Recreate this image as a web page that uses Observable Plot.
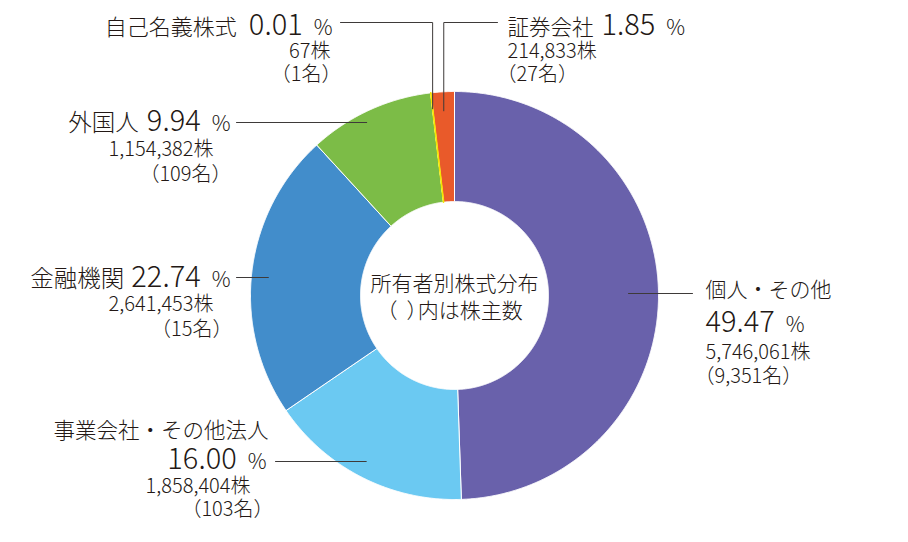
<!DOCTYPE html>
<html><head><meta charset="utf-8">
<script src="https://cdn.jsdelivr.net/npm/d3@7"></script>
<script src="https://cdn.jsdelivr.net/npm/@observablehq/plot@0.6"></script>
<style>
body{margin:0;background:#fff;}
#chart svg{display:block;}
#chart svg > g:last-of-type text{font-feature-settings:"palt";}
</style>
</head><body><div id="chart"></div>
<script>
// ---- data ----
const categories = ["個人・その他","事業会社・その他法人","金融機関","外国人","自己名義株式","証券会社"];
const percents   = [49.47, 16.00, 22.74, 9.94, 0.01, 1.85];
const shares     = ["5,746,061","1,858,404","2,641,453","1,154,382","67","214,833"];
const holders    = ["9,351","103","15","109","1","27"];
const colors     = ["#6961ab","#6bc9f2","#428dcb","#7cbc47","#f3e500","#e95a2a"];
const centerTitle = ["所有者別株式分布","（\u2002）内は株主数"];

// ---- geometry / layout ----
const W = 908, H = 542, CX = 454, CY = 295, R_OUT = 204, R_IN = 94;
const X = px => px - CX, Y = py => CY - py;
const FONT = '"Noto Sans CJK JP", "Noto Sans", sans-serif';
const WEIGHT = 300;
const INK = "#231815";
const NUM = 29, UNIT = 21, SUB = 20, CENTER = 21;
const GAP_UNIT = 11;

// lineY: y of a horizontal leader (px); elbow: y of the top elbow leader (px)
const layout = {
  "個人・その他": {r:174, lineY:293, lineEnd:692, label:21, rows:[
    {x:705, anchor:"start", dy:3,  segs:["label"]},
    {x:705, anchor:"start", dy:38, segs:["pct","unit"]},
    {x:705, anchor:"start", dy:65, segs:["shares"]},
    {x:694, anchor:"start", dy:89, segs:["holders"]}]},
  "事業会社・その他法人": {r:188, lineY:461, lineEnd:275, label:21.5, rows:[
    {x:268, anchor:"end", dy:-24, segs:["label"]},
    {x:266, anchor:"end", dy:7,  segs:["pct","unit"]},
    {x:250, anchor:"end", dy:31, segs:["shares"]},
    {x:273, anchor:"end", dy:54, segs:["holders"]}]},
  "金融機関": {r:187, lineY:277, lineEnd:236, label:23.5, rows:[
    {x:230, anchor:"end", dy:9, gap:7, segs:["label","pct","unit"]},
    {x:213, anchor:"end", dy:33, segs:["shares"]},
    {x:232, anchor:"end", dy:58, segs:["holders"]}]},
  "外国人": {r:194, lineY:122, lineEnd:236, label:23.5, rows:[
    {x:230, anchor:"end", dy:8, gap:8, segs:["label","pct","unit"]},
    {x:213, anchor:"end", dy:33, segs:["shares"]},
    {x:231, anchor:"end", dy:58, segs:["holders"]}]},
  "自己名義株式": {r:188, elbow:22, lineEnd:340, label:22, rows:[
    {x:332, anchor:"end", dy:12, gap:12, segs:["label","pct","unit"]},
    {x:330, anchor:"end", dy:35, segs:["shares"]},
    {x:341, anchor:"end", dy:58, segs:["holders"]}]},
  "証券会社": {r:185, elbow:22, lineEnd:497, label:21.5, rows:[
    {x:507, anchor:"start", dy:12, gap:8, segs:["label","pct","unit"]},
    {x:507, anchor:"start", dy:35, segs:["shares"]},
    {x:496, anchor:"start", dy:58, segs:["holders"]}]}
};

// ---- build ----
const rows = categories.map((c,i)=>({cat:c, pct:percents[i], shares:shares[i], holders:holders[i]}));
const arcs = d3.pie().sort(null).value(d=>d.pct).startAngle(0).endAngle(2*Math.PI)(rows);

const slicePts = arcs.flatMap(a => {
  const n = Math.max(1, Math.ceil((a.endAngle - a.startAngle)/(Math.PI/720)));
  const out = [], inn = [];
  for (let k = 0; k <= n; k++) {
    const t = a.startAngle + (a.endAngle - a.startAngle)*k/n;
    out.push({cat:a.data.cat, x:R_OUT*Math.sin(t), y:R_OUT*Math.cos(t)});
    inn.push({cat:a.data.cat, x:R_IN*Math.sin(t), y:R_IN*Math.cos(t)});
  }
  const ring = out.concat(inn.reverse());
  ring.push({...ring[0]});
  return ring;
});
const tinyCats = new Set(rows.filter(d => d.pct < 0.5).map(d => d.cat));

const ctx = document.createElement("canvas").getContext("2d");
const measure = (s, size) => { ctx.font = `${WEIGHT} ${size}px ${FONT}`; return ctx.measureText(s).width; };
const fmt = d3.format(".2f");

const leaderPts = [];
const pieces = [];
arcs.forEach(a => {
  const d = a.data, L = layout[d.cat];
  const mid = (a.startAngle + a.endAngle)/2;
  const side = Math.sin(mid) >= 0 ? 1 : -1;
  let lineY;
  if (L.elbow !== undefined) {
    const mx = L.r*Math.sin(mid), my = L.r*Math.cos(mid);
    lineY = Y(L.elbow);
    leaderPts.push({cat:d.cat, x:mx, y:my}, {cat:d.cat, x:mx, y:lineY});
  } else {
    lineY = Y(L.lineY);
    const mx = side*Math.sqrt(L.r*L.r - lineY*lineY);
    leaderPts.push({cat:d.cat, x:mx, y:lineY});
  }
  leaderPts.push({cat:d.cat, x:X(L.lineEnd), y:lineY});
  const basePy = CY - lineY;
  L.rows.forEach(row => {
    const segs = row.segs.map(k => {
      if (k === "label") return {text:d.cat, size:L.label};
      if (k === "pct") return {text:fmt(d.pct), size:NUM};
      if (k === "unit") return {text:"%", size:UNIT};
      if (k === "shares") return {text:d.shares + "株", size:SUB};
      return {text:"（" + d.holders + "名）", size:SUB};
    });
    const gaps = row.segs.map((k,i) => i === 0 ? 0 : (k === "pct" ? row.gap : GAP_UNIT));
    const widths = segs.map(s => measure(s.text, s.size));
    const total = d3.sum(widths) + d3.sum(gaps);
    let x0 = row.anchor === "start" ? row.x : row.x - total;
    segs.forEach((s,i) => {
      x0 += gaps[i];
      pieces.push({x:X(x0), y:Y(basePy + row.dy), text:s.text, size:s.size});
      x0 += widths[i];
    });
  });
});

const centerPts = centerTitle.map((t,i) => ({x:0, y:Y(290 + 27*i), text:t}));

const chart = Plot.plot({
  width: W, height: H, margin: 0,
  x: {domain: [-CX, W - CX], axis: null},
  y: {domain: [CY - H, CY], axis: null},
  color: {domain: categories, range: colors},
  style: {fontFamily: FONT, fontWeight: WEIGHT, background: "#fff", overflow: "visible"},
  marks: [
    Plot.line(slicePts, {x:"x", y:"y", z:"cat", fill:"cat", stroke:"white", strokeWidth:1}),
    Plot.line(slicePts.filter(p => tinyCats.has(p.cat)), {x:"x", y:"y", z:"cat", stroke:"cat", strokeWidth:1.6}),
    Plot.line(leaderPts, {x:"x", y:"y", z:"cat", stroke:"#3e3a39", strokeWidth:1}),
    Plot.text(pieces, {x:"x", y:"y", text:"text", fontSize:"size", fontWeight:WEIGHT, textAnchor:"start", lineAnchor:"bottom", fill:INK}),
    Plot.text(centerPts, {x:"x", y:"y", text:"text", fontSize:CENTER, fontWeight:WEIGHT, textAnchor:"middle", lineAnchor:"bottom", fill:INK})
  ]
});
document.getElementById("chart").append(chart);
</script>
</body></html>
